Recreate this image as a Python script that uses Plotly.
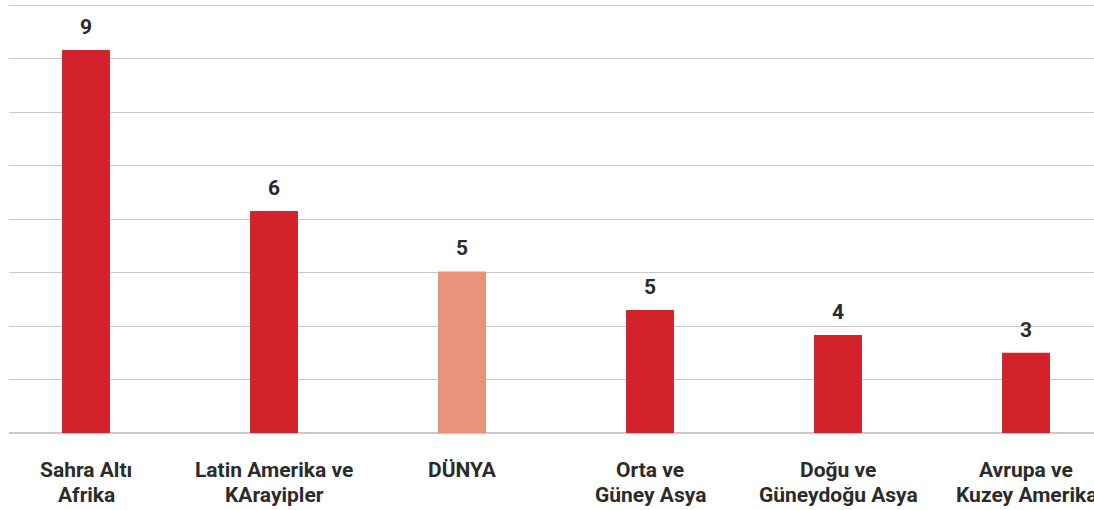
import plotly.graph_objects as go

categories = ["Sahra Altı<br>Afrika", "Latin Amerika ve<br>KArayipler", "DÜNYA",
              "Orta ve<br>Güney Asya", "Doğu ve<br>Güneydoğu Asya", "Avrupa ve<br>Kuzey Amerika"]
values = [7.16, 4.15, 3.02, 2.30, 1.83, 1.50]
value_labels = ["9", "6", "5", "5", "4", "3"]
colors = ["#d2232a", "#d2232a", "#e8937a", "#d2232a", "#d2232a", "#d2232a"]

FONT = "Roboto"
TXT = "#2b2b2b"

fig = go.Figure()
fig.add_trace(go.Bar(
    x=categories, y=values, marker=dict(color=colors, line=dict(width=0)),
    width=0.255, hoverinfo="skip",
))

annotations = []
for cat, v, lab in zip(categories, values, value_labels):
    annotations.append(dict(
        x=cat, y=v, xref="x", yref="y", text=f"<b>{lab}</b>", showarrow=False,
        yanchor="bottom", yshift=9, font=dict(family=FONT, size=21, color=TXT),
    ))
    for i, line in enumerate(cat.split("<br>")):
        annotations.append(dict(
            x=cat, y=0, xref="x", yref="y", text=f"<b>{line}</b>", showarrow=False,
            yanchor="top", yshift=-23 - 25 * i, font=dict(family=FONT, size=21, color=TXT),
        ))

fig.update_layout(
    width=1094, height=510,
    margin=dict(l=9, r=0, t=4, b=77),
    paper_bgcolor="white", plot_bgcolor="white",
    showlegend=False,
    annotations=annotations,
    xaxis=dict(type="category", range=[-0.4096, 5.3617], showticklabels=False,
               showgrid=False, zeroline=False, showline=False, fixedrange=True),
    yaxis=dict(range=[0, 8.02], dtick=1, showticklabels=False, showgrid=True,
               gridcolor="#c8c8c8", gridwidth=1, zeroline=True, zerolinecolor="#c8c8c8",
               zerolinewidth=2, showline=False, fixedrange=True),
)

fig.write_html("out.html", config={"displayModeBar": False},
               post_script="document.body.style.margin='0';document.body.style.overflow='hidden';")
